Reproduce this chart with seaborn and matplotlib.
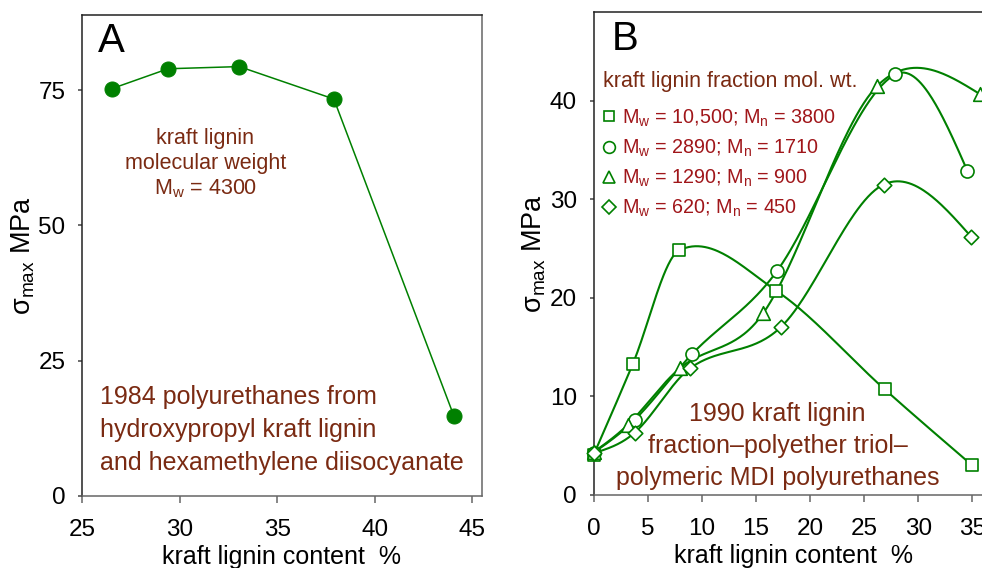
import numpy as np
import matplotlib
matplotlib.use("Agg")
import matplotlib.pyplot as plt
import seaborn as sns
from matplotlib.lines import Line2D

# ---- Panel A: 1984 hydroxypropyl kraft lignin / HDI polyurethanes ----
a_content = [26.5, 29.4, 33.05, 37.9, 44.05]
a_sigma = [75.3, 79.0, 79.4, 73.4, 14.8]

# ---- Panel B: 1990 kraft lignin fraction polyurethanes ----
b_x_w10500 = [0, 3.64, 7.9, 16.9, 26.9, 35.0]
b_y_w10500 = [4.0, 13.3, 24.8, 20.7, 10.7, 2.96]
b_x_w2890 = [0, 3.82, 9.13, 16.95, 27.9, 34.55]
b_y_w2890 = [4.25, 7.6, 14.3, 22.7, 42.7, 32.9]
b_x_w1290 = [0, 3.18, 8.0, 15.7, 26.2, 35.7]
b_y_w1290 = [4.3, 7.1, 12.85, 18.45, 41.5, 40.7]
b_x_w620 = [0, 3.82, 8.95, 17.3, 26.8, 34.9]
b_y_w620 = [4.2, 6.3, 12.85, 17.0, 31.5, 26.2]

b_labels = [
    "M$_\\mathregular{w}$ = 10,500; M$_\\mathregular{n}$ = 3800",
    "M$_\\mathregular{w}$ = 2890; M$_\\mathregular{n}$ = 1710",
    "M$_\\mathregular{w}$ = 1290; M$_\\mathregular{n}$ = 900",
    "M$_\\mathregular{w}$ = 620; M$_\\mathregular{n}$ = 450",
]
a_xticks = [25, 30, 35, 40, 45]
a_yticks = [0, 25, 50, 75]
b_xticks = [0, 5, 10, 15, 20, 25, 30, 35]
b_yticks = [0, 10, 20, 30, 40]

GREEN = "#008000"
BROWN = "#7a2a12"
RED = "#a0161a"


def smooth_curve(x, y, per_segment=60):
    """Cubic Hermite curve through the points (finite-difference slopes)."""
    x = np.asarray(x, float)
    y = np.asarray(y, float)
    sec = np.diff(y) / np.diff(x)
    m = np.empty_like(y)
    m[1:-1] = (y[2:] - y[:-2]) / (x[2:] - x[:-2])
    m[0] = (3 * sec[0] - m[1]) / 2
    m[-1] = (3 * sec[-1] - m[-2]) / 2
    xs_all, ys_all = [], []
    for i in range(len(x) - 1):
        h = x[i + 1] - x[i]
        t = np.linspace(0, 1, per_segment, endpoint=(i == len(x) - 2))
        h00 = 2 * t ** 3 - 3 * t ** 2 + 1
        h10 = t ** 3 - 2 * t ** 2 + t
        h01 = -2 * t ** 3 + 3 * t ** 2
        h11 = t ** 3 - t ** 2
        xs_all.append(x[i] + t * h)
        ys_all.append(h00 * y[i] + h10 * h * m[i] + h01 * y[i + 1] + h11 * h * m[i + 1])
    return np.concatenate(xs_all), np.concatenate(ys_all)


sns.set_style("ticks")
plt.rcParams["font.family"] = ["Liberation Sans", "DejaVu Sans"]
plt.rcParams["mathtext.fontset"] = "custom"
plt.rcParams["mathtext.rm"] = "Liberation Sans"
plt.rcParams["mathtext.it"] = "Liberation Sans:italic"
plt.rcParams["text.color"] = "black"
plt.rcParams["axes.labelcolor"] = "black"
plt.rcParams["xtick.labelcolor"] = "black"
plt.rcParams["ytick.labelcolor"] = "black"

fig = plt.figure(figsize=(9.82, 5.68), dpi=100)
axA = fig.add_axes([0.0838, 0.1273, 0.4067, 0.8468])
axB = fig.add_axes([0.6044, 0.1294, 0.4077, 0.8488])


def style_axes(ax):
    for side in ["left", "top"]:
        ax.spines[side].set_color("#222222")
    for side in ["bottom", "right"]:
        ax.spines[side].set_color("#666666")
    for sp in ax.spines.values():
        sp.set_linewidth(1.1)
        sp.set_visible(True)
    ax.tick_params(axis="x", direction="out", length=5, width=1.1,
                   color="#666666", pad=12, labelsize=17.5)
    ax.tick_params(axis="y", direction="out", length=3, width=1.1,
                   color="#444444", pad=9, labelsize=17.5)
    ax.grid(False)


YLABEL = "\u03c3$_\\mathregular{max}$ MPa"

# Panel A
sns.lineplot(x=a_content, y=a_sigma, ax=axA, color=GREEN, linewidth=1.1,
             marker="o", markersize=10.8, markeredgecolor=GREEN,
             markerfacecolor=GREEN, sort=False, estimator=None)
axA.set_xlim(25, 45.48)
axA.set_ylim(0, 89)
axA.set_xticks(a_xticks)
axA.set_yticks(a_yticks)
style_axes(axA)
axA.set_xlabel("kraft lignin content  %", fontsize=18, labelpad=3)
axA.set_ylabel(YLABEL, fontsize=19.5, labelpad=1)
axA.text(0.038, 0.985, "A", transform=axA.transAxes, fontsize=29,
         ha="left", va="top")
axA.text(31.3, 68, "kraft lignin\nmolecular weight\nM$_\\mathregular{w}$ = 4300",
         color=BROWN, fontsize=15.5, ha="center", va="top", linespacing=1.22)
axA.text(25.9, 20.4,
         "1984 polyurethanes from\nhydroxypropyl kraft lignin\nand hexamethylene diisocyanate",
         color=BROWN, fontsize=18, ha="left", va="top", linespacing=1.47)

# Panel B
b_series = [
    (b_x_w10500, b_y_w10500, "s", 8.6),
    (b_x_w2890, b_y_w2890, "o", 9.4),
    (b_x_w1290, b_y_w1290, "^", 9.8),
    (b_x_w620, b_y_w620, "D", 7.4),
]
for xs, ys, mk, ms in b_series:
    sx, sy = smooth_curve(xs, ys)
    sns.lineplot(x=sx, y=sy, ax=axB, color=GREEN, linewidth=1.5,
                 sort=False, estimator=None)
for xs, ys, mk, ms in b_series:
    sns.scatterplot(x=xs, y=ys, ax=axB, marker=mk, s=ms ** 2,
                    facecolor="white", edgecolor=GREEN, linewidth=1.2,
                    zorder=5, clip_on=False)
axB.set_xlim(0, 37)
axB.set_ylim(0, 49)
axB.set_xticks(b_xticks)
axB.set_yticks(b_yticks)
style_axes(axB)
axB.set_xlabel("kraft lignin content  %", fontsize=18, labelpad=3)
axB.set_ylabel(YLABEL, fontsize=19.5, labelpad=1)
axB.text(0.045, 0.985, "B", transform=axB.transAxes, fontsize=29,
         ha="left", va="top")
axB.text(17.0, 9.4,
         "1990 kraft lignin\nfraction\u2013polyether triol\u2013\npolymeric MDI polyurethanes",
         color=BROWN, fontsize=18, ha="center", va="top", linespacing=1.41)

# Legend: heading as its own text line, entries from marker handles
axB.text(0.0237, 0.846, "kraft lignin fraction mol. wt.", transform=axB.transAxes,
         color=BROWN, fontsize=15.5, ha="left", va="baseline")
handles = [Line2D([], [], marker=mk, linestyle="", markersize=ms * 0.9,
                  markerfacecolor="white", markeredgecolor=GREEN,
                  markeredgewidth=1.2) for _, _, mk, ms in b_series]
leg = axB.legend(handles, b_labels, loc="upper left",
                 bbox_to_anchor=(0.02, 0.803), frameon=False, fontsize=14.2,
                 labelcolor=RED, handletextpad=0.25, handlelength=0.8,
                 labelspacing=0.45, borderpad=0, borderaxespad=0)

fig.savefig("out.png", dpi=100)
